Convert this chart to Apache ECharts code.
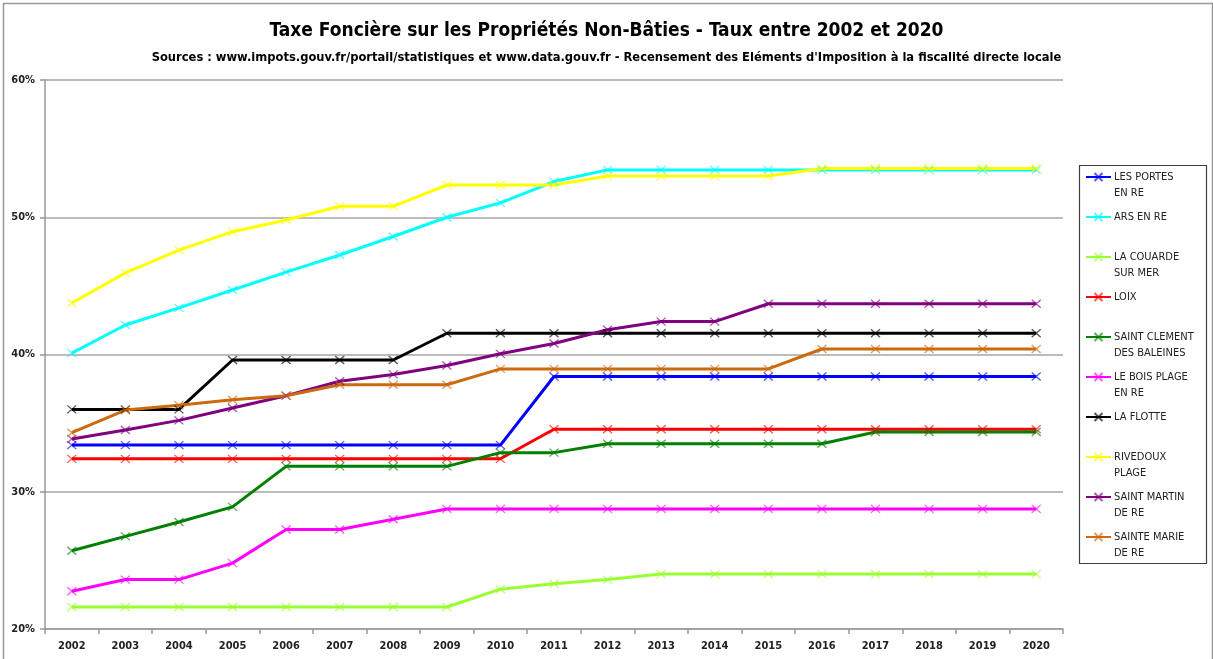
<!DOCTYPE html>
<html>
<head>
<meta charset="utf-8">
<script src="https://cdn.jsdelivr.net/npm/echarts@6/dist/echarts.min.js"></script>
<style>
html,body{margin:0;padding:0;background:#fff;}
#chart{width:1213px;height:659px;}
</style>
</head>
<body>
<div id="chart"></div>
<script>
var years = ['2002','2003','2004','2005','2006','2007','2008','2009','2010','2011','2012','2013','2014','2015','2016','2017','2018','2019','2020'];

var lesPortes    = [33.4,33.4,33.4,33.4,33.4,33.4,33.4,33.4,33.4,38.4,38.4,38.4,38.4,38.4,38.4,38.4,38.4,38.4,38.4];
var arsEnRe      = [40.1,42.15,43.4,44.7,46.0,47.25,48.6,50.0,51.05,52.6,53.45,53.45,53.45,53.45,53.45,53.45,53.45,53.45,53.45];
var laCouarde    = [21.6,21.6,21.6,21.6,21.6,21.6,21.6,21.6,22.9,23.3,23.6,24.0,24.0,24.0,24.0,24.0,24.0,24.0,24.0];
var loix         = [32.4,32.4,32.4,32.4,32.4,32.4,32.4,32.4,32.4,34.55,34.55,34.55,34.55,34.55,34.55,34.55,34.55,34.55,34.55];
var saintClement = [25.7,26.75,27.8,28.9,31.85,31.85,31.85,31.85,32.85,32.85,33.5,33.5,33.5,33.5,33.5,34.35,34.35,34.35,34.35];
var leBoisPlage  = [22.75,23.6,23.6,24.8,27.25,27.25,28.0,28.75,28.75,28.75,28.75,28.75,28.75,28.75,28.75,28.75,28.75,28.75,28.75];
var laFlotte     = [36.0,36.0,36.0,39.6,39.6,39.6,39.6,41.55,41.55,41.55,41.55,41.55,41.55,41.55,41.55,41.55,41.55,41.55,41.55];
var rivedoux     = [43.75,45.95,47.6,48.95,49.8,50.8,50.8,52.35,52.35,52.35,53.0,53.0,53.0,53.0,53.55,53.55,53.55,53.55,53.55];
var saintMartin  = [33.85,34.5,35.2,36.1,37.0,38.05,38.55,39.2,40.05,40.8,41.8,42.4,42.4,43.7,43.7,43.7,43.7,43.7,43.7];
var sainteMarie  = [34.3,35.95,36.3,36.7,37.0,37.8,37.8,37.8,38.95,38.95,38.95,38.95,38.95,38.95,40.4,40.4,40.4,40.4,40.4];

var seriesNames = ['LES PORTES\nEN RE','ARS EN RE','LA COUARDE\nSUR MER','LOIX','SAINT CLEMENT\nDES BALEINES','LE BOIS PLAGE\nEN RE','LA FLOTTE','RIVEDOUX\nPLAGE','SAINT MARTIN\nDE RE','SAINTE MARIE\nDE RE'];
var seriesData = [lesPortes, arsEnRe, laCouarde, loix, saintClement, leBoisPlage, laFlotte, rivedoux, saintMartin, sainteMarie];
var seriesColors = ['#0000FF','#00FFFF','#99FF33','#FF0000','#008000','#FF00FF','#000000','#FFFF00','#800080','#CC6A10'];

var yTicks = {min: 20, max: 60, interval: 10};

var FONT = '"DejaVu Sans Condensed", "Open Sans", sans-serif';
var crossPath = 'path://M0,0L10,10M0,10L10,0';

var series = seriesNames.map(function (name, i) {
  return {
    name: name,
    type: 'line',
    data: seriesData[i],
    symbol: crossPath,
    symbolSize: [9, 8],
    showSymbol: true,
    lineStyle: {color: seriesColors[i], width: 3},
    itemStyle: {color: seriesColors[i], borderColor: seriesColors[i], borderWidth: 1.3, opacity: 0.65},
    emphasis: {disabled: true},
    animation: false
  };
});

function legendLabel(name) {
  var parts = name.split('\n');
  return ' \n' + parts[0] + '\n' + (parts[1] || ' ');
}

var chart = echarts.init(document.getElementById('chart'), null, {renderer: 'canvas'});
chart.setOption({
  backgroundColor: '#ffffff',
  animation: false,
  title: [
    {text: 'Taxe Foncière sur les Propriétés Non-Bâties - Taux entre 2002 et 2020', left: 'center', top: 17,
     textStyle: {fontFamily: FONT, fontSize: 19, fontWeight: 'bold', color: '#000'}},
    {text: "Sources : www.impots.gouv.fr/portail/statistiques et www.data.gouv.fr - Recensement des Eléments d'Imposition à la fiscalité directe locale", left: 'center', top: 46,
     textStyle: {fontFamily: FONT, fontSize: 12.8, fontWeight: 'bold', color: '#000'}}
  ],
  grid: {left: 45, right: 150, top: 80, bottom: 30, containLabel: false},
  legend: {
    orient: 'vertical',
    left: 1085,
    top: 153,
    padding: 0,
    itemGap: -8,
    itemWidth: 25,
    itemHeight: 10,
    selectedMode: false,
    formatter: legendLabel,
    textStyle: {fontFamily: FONT, fontSize: 11, color: '#222', lineHeight: 16, padding: [0, 0, 0, -2]},
    data: seriesNames
  },
  xAxis: {
    type: 'category',
    data: years,
    boundaryGap: true,
    axisLine: {lineStyle: {color: '#999', width: 1.5}},
    axisTick: {show: true, length: 5, lineStyle: {color: '#999', width: 1.5}},
    axisLabel: {fontFamily: FONT, fontSize: 11, fontWeight: 'bold', color: '#222', margin: 12}
  },
  yAxis: {
    type: 'value',
    min: yTicks.min,
    max: yTicks.max,
    interval: yTicks.interval,
    axisLine: {show: true, lineStyle: {color: '#999', width: 1.5}},
    axisTick: {show: true, length: 5, lineStyle: {color: '#999', width: 1.5}},
    axisLabel: {fontFamily: FONT, fontSize: 11, fontWeight: 'bold', color: '#222', margin: 10, formatter: '{value}%'},
    splitLine: {show: true, lineStyle: {color: '#A6A6A6', width: 1.5}}
  },
  graphic: [
    {type: 'rect', left: 1, top: 1, shape: {width: 1209, height: 680}, style: {fill: 'none', stroke: '#999', lineWidth: 1.5}, silent: true},
    {type: 'rect', left: 1077, top: 163, shape: {width: 127, height: 398}, style: {fill: 'none', stroke: '#404040', lineWidth: 1.2}, silent: true}
  ],
  series: series
});
</script>
</body>
</html>
